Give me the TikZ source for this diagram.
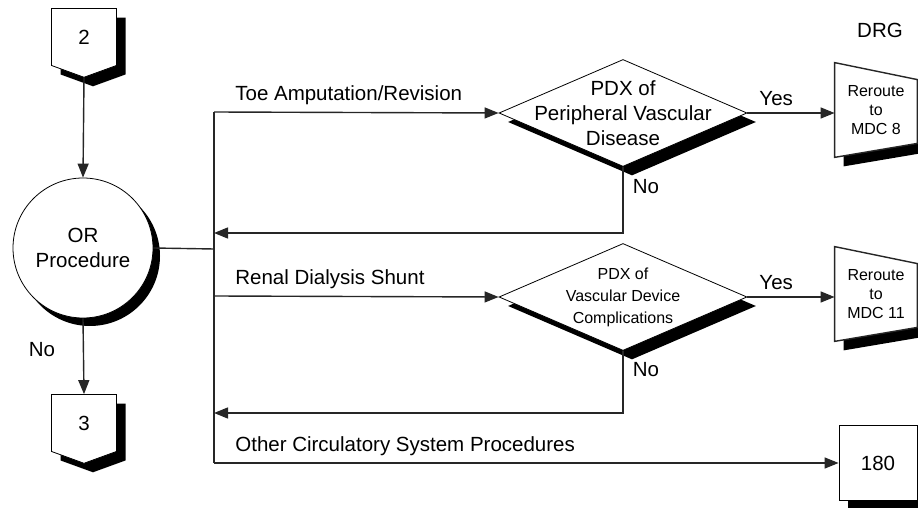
\documentclass[tikz,border=0pt]{standalone}
\usepackage{fontspec}
\setmainfont{Liberation Sans}
\usetikzlibrary{shapes.geometric,shapes.symbols,shadows,arrows.meta,backgrounds}

\begin{document}
\begin{tikzpicture}[x=0.5pt,y=-0.5pt,
      every node/.style={font=\fontsize{10.25}{12.5}\selectfont},
      line/.style={draw=black!85,line width=0.7pt},
      arr/.style={line,-{Triangle[length=7pt,width=5.5pt]}},
      shade/.style={drop shadow={shadow xshift=4.5pt,shadow yshift=-4.5pt,fill=black,opacity=1}},
      offpage/.style={signal,signal to=south,signal pointer angle=140,draw,fill=white,shade,
        minimum width=32.5pt,minimum height=29.5pt,inner sep=0pt},
      test/.style={diamond,draw,fill=white,shade,inner sep=0pt,
        minimum width=124pt,minimum height=53.5pt},
      reroute/.style={rectangle,inner sep=0pt,minimum width=41pt,minimum height=47pt,
        align=center,font=\fontsize{8}{9.5}\selectfont},
      drgbox/.style={rectangle,draw,fill=white,shade,minimum width=39pt,minimum height=37.5pt}]
      \useasboundingbox (0,0) rectangle (918,508);
      \clip (0,0) rectangle (918,508);
      % entry and exit
      \node[offpage] (two) at (84,37) {2};
      \node[circle,draw,fill=white,drop shadow={shadow xshift=3.5pt,shadow yshift=-4pt,fill=black,opacity=1},
        minimum size=70pt,align=center] (proc) at (83,248) {OR\\Procedure};
      \node[offpage] (three) at (84,423) {3};
      \draw[arr] (two.south) -- (proc.north);
      \draw[arr] (proc.south) -- (three.north);
      \node at (42,350) {No};
      % trunk
      \coordinate (trunk) at (214,249);
      \coordinate (top) at (214,112);
      \coordinate (mid) at (214,296);
      \coordinate (bot) at (214,463);
      \coordinate (ret1) at (214,233);
      \coordinate (ret2) at (214,413);
      \draw[line] (proc.east) -- (trunk);
      \draw[line] (top) -- (bot);
      % tests
      \node[test,label={[align=center,font=\fontsize{10.25}{12.5}\selectfont]center:PDX of\\Peripheral Vascular\\Disease}] (pvd) at (623,113) {};
      \node[test,label={[align=center,font=\fontsize{8}{11}\selectfont]center:PDX of\\Vascular Device\\Complications}] (vdc) at (623,297) {};
      \node[reroute] (mdc8) at (876,110) {Reroute\\to\\MDC 8};
      \node[reroute] (mdc11) at (876,294) {Reroute\\to\\MDC 11};
      \node[drgbox] (drg180) at (878,463) {180};
      \node at (880,30) {DRG};
      \begin{scope}[on background layer]
        \foreach \n in {mdc8,mdc11}{
          \fill ([shift={(9,9)}]\n.north west) -- ([shift={(9,26)}]\n.north east)
            -- ([shift={(9,-5)}]\n.south east) -- ([shift={(9,9)}]\n.south west) -- cycle;
          \filldraw[line,fill=white] (\n.north west) -- ([shift={(0,17)}]\n.north east)
            -- ([shift={(0,-14)}]\n.south east) -- (\n.south west) -- cycle;
        }
      \end{scope}
      % branches
      \draw[arr] (top) -- node[anchor=south west,pos=0] {\hspace*{7pt}Toe Amputation/Revision} (pvd.west);
      \draw[arr] (pvd.east) -- node[above,pos=0.33] {Yes} (pvd.east -| mdc8.west);
      \draw[arr] (pvd.south) |- (ret1);
      \node at (646,187) {No};
      \draw[arr] (mid) -- node[anchor=south west,pos=0] {\hspace*{7pt}Renal Dialysis Shunt} (vdc.west);
      \draw[arr] (vdc.east) -- node[above,pos=0.33] {Yes} (vdc.east -| mdc11.west);
      \draw[arr] (vdc.south) |- (ret2);
      \node at (646,370) {No};
      \draw[arr] (bot) -- node[anchor=south west,pos=0] {\hspace*{7pt}Other Circulatory System Procedures} (drg180.west);
\end{tikzpicture}
\end{document}
